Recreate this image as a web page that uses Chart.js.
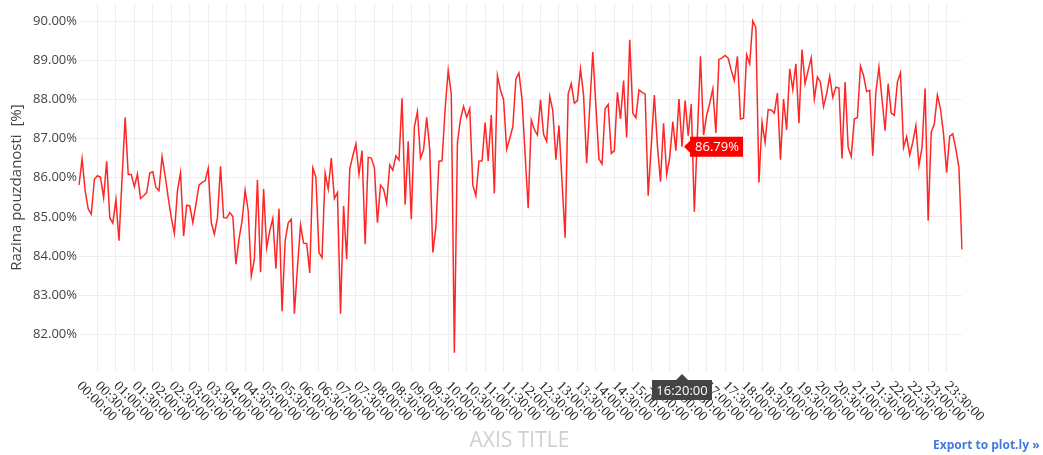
<!DOCTYPE html>
<html>
<head>
<meta charset="utf-8">
<script src="https://cdn.jsdelivr.net/npm/chart.js@4.4.1/dist/chart.umd.min.js"></script>
<style>
  body { margin: 0; background: #fff; }
  #wrap { position: relative; width: 1043px; height: 455px; }
  #export {
    position: absolute; left: 933px; top: 436px;
    font: bold 12px "Open Sans", Arial, sans-serif; color: #447adb;
    white-space: nowrap;
  }
</style>
</head>
<body>
<div id="wrap">
  <canvas id="chart" width="1043" height="455"></canvas>
  <div id="export">Export to plot.ly »</div>
</div>
<script>
// 5-minute samples, one row per hour (00:00 .. 23:55)
const confidence = [
  85.81, 86.48, 85.67, 85.20, 85.07, 85.96, 86.05, 86.01, 85.49, 86.42, 84.98, 84.84,
  85.44, 84.39, 86.00, 87.54, 86.08, 86.08, 85.77, 86.09, 85.47, 85.54, 85.62, 86.12,
  86.15, 85.75, 85.67, 86.54, 86.05, 85.49, 84.98, 84.58, 85.67, 86.13, 84.51, 85.30,
  85.28, 84.85, 85.32, 85.81, 85.88, 85.92, 86.24, 84.85, 84.56, 84.98, 86.29, 84.98,
  84.97, 85.11, 85.01, 83.79, 84.43, 84.90, 85.68, 85.15, 83.49, 83.92, 85.95, 83.59,
  85.71, 84.21, 84.64, 84.96, 83.68, 85.21, 82.59, 84.39, 84.85, 84.94, 82.53, 83.70,
  84.79, 84.33, 84.32, 83.57, 86.25, 86.01, 84.09, 83.96, 86.12, 85.71, 86.50, 85.47,
  85.62, 82.53, 85.28, 83.92, 86.22, 86.56, 86.86, 86.09, 86.69, 84.30, 86.52, 86.50,
  86.26, 84.85, 85.81, 85.71, 85.35, 86.33, 86.19, 86.56, 86.45, 88.03, 85.31, 86.93,
  84.94, 87.29, 87.69, 86.50, 86.71, 87.54, 86.73, 84.09, 84.73, 86.42, 86.43, 87.76,
  88.74, 88.14, 81.53, 86.90, 87.50, 87.82, 87.54, 87.76, 85.81, 85.54, 86.42, 86.43,
  87.41, 86.43, 87.60, 85.60, 88.61, 88.23, 87.99, 86.73, 87.00, 87.30, 88.52, 88.67,
  88.00, 86.60, 85.22, 87.47, 87.23, 87.09, 87.99, 87.11, 86.93, 88.08, 87.71, 86.46,
  87.33, 85.90, 84.47, 88.14, 88.40, 87.90, 87.97, 88.78, 88.11, 86.37, 87.80, 89.21,
  87.84, 86.48, 86.35, 87.76, 87.87, 86.62, 86.69, 88.18, 87.50, 88.48, 87.03, 89.52,
  87.65, 87.53, 88.24, 88.18, 88.14, 85.54, 86.82, 88.11, 86.82, 85.90, 87.39, 86.09,
  86.52, 87.43, 86.69, 88.01, 86.79, 87.97, 87.07, 87.88, 85.13, 87.10, 89.10, 87.09,
  87.59, 87.90, 88.27, 87.14, 89.02, 89.06, 89.12, 89.05, 88.74, 88.48, 89.10, 87.50,
  87.52, 89.14, 88.91, 90.00, 89.83, 85.88, 87.41, 86.90, 87.74, 87.73, 87.65, 88.16,
  86.46, 88.01, 87.22, 88.78, 88.25, 88.91, 87.39, 89.27, 88.40, 88.74, 89.06, 88.01,
  88.57, 88.44, 87.82, 88.14, 88.59, 88.05, 88.31, 88.29, 86.49, 88.44, 86.77, 86.54,
  87.50, 87.53, 88.85, 88.61, 88.20, 88.23, 86.56, 88.18, 88.82, 88.01, 87.20, 88.40,
  87.65, 87.59, 88.44, 88.68, 86.77, 87.05, 86.58, 86.90, 87.33, 86.32, 86.77, 88.28,
  84.90, 87.16, 87.37, 88.11, 87.76, 87.12, 86.13, 87.06, 87.12, 86.73, 86.26, 84.17
];

// categories: HH:MM:00 every 5 minutes
const times = [];
for (let m = 0; m < 24 * 60; m += 5) {
  const hh = String(Math.floor(m / 60)).padStart(2, '0');
  const mm = String(m % 60).padStart(2, '0');
  times.push(hh + ':' + mm + ':00');
}

const yTicks = [82, 83, 84, 85, 86, 87, 88, 89, 90];
const yRange = [81.04, 90.46];
const hoverIndex = 196;   // 16:20:00

const overlay = {
  id: 'overlay',
  afterDraw(chart) {
    const { ctx, chartArea, scales: { x, y } } = chart;
    ctx.save();

    // rotated time labels every 30 minutes
    ctx.font = '14px "Liberation Serif", serif';
    ctx.fillStyle = '#222';
    ctx.textAlign = 'left';
    ctx.textBaseline = 'middle';
    times.forEach((lab, i) => {
      if (i % 6) return;
      ctx.save();
      ctx.translate(x.getPixelForValue(i), chartArea.bottom + 12);
      ctx.rotate(Math.PI / 4);
      ctx.fillText(lab, 0, 0);
      ctx.restore();
    });

    // x axis title
    ctx.font = '21px "Open Sans", sans-serif';
    ctx.fillStyle = '#d0d0d0';
    ctx.textAlign = 'center';
    ctx.fillText('AXIS TITLE', (chartArea.left + chartArea.right) / 2 - 1, 441);

    // hover labels
    const px = x.getPixelForValue(hoverIndex);
    const py = y.getPixelForValue(confidence[hoverIndex]);

    ctx.fillStyle = '#ff0000';
    ctx.beginPath();
    ctx.moveTo(px + 2, py);
    ctx.lineTo(px + 8, py - 6);
    ctx.lineTo(px + 8, py - 10);
    ctx.lineTo(px + 61, py - 10);
    ctx.lineTo(px + 61, py + 10);
    ctx.lineTo(px + 8, py + 10);
    ctx.lineTo(px + 8, py + 6);
    ctx.closePath();
    ctx.fill();
    ctx.font = '13px "Open Sans", sans-serif';
    ctx.fillStyle = '#fff';
    ctx.textAlign = 'center';
    ctx.fillText(confidence[hoverIndex].toFixed(2) + '%', px + 35, py + 1);

    const ty = chartArea.bottom + 2;
    ctx.fillStyle = '#444';
    ctx.beginPath();
    ctx.moveTo(px, ty);
    ctx.lineTo(px + 6, ty + 6);
    ctx.lineTo(px + 30, ty + 6);
    ctx.lineTo(px + 30, ty + 26);
    ctx.lineTo(px - 30, ty + 26);
    ctx.lineTo(px - 30, ty + 6);
    ctx.lineTo(px - 6, ty + 6);
    ctx.closePath();
    ctx.fill();
    ctx.fillStyle = '#fff';
    ctx.fillText(times[hoverIndex], px, ty + 17);

    ctx.restore();
  }
};

new Chart(document.getElementById('chart'), {
  type: 'line',
  data: {
    labels: times,
    datasets: [{
      data: confidence,
      borderColor: 'rgba(255, 0, 0, 0.85)',
      borderWidth: 1.5,
      pointRadius: 0,
      tension: 0,
      fill: false
    }]
  },
  options: {
    responsive: false,
    animation: false,
    devicePixelRatio: 1,
    layout: { padding: { top: 3, right: 81, left: 0, bottom: 0 } },
    plugins: {
      legend: { display: false },
      tooltip: { enabled: false }
    },
    scales: {
      x: {
        type: 'category',
        offset: false,
        border: { display: false },
        grid: {
          drawTicks: false,
          offset: false,
          color: c => (c.index % 6 === 0 && c.index > 0) ? '#eeeeee' : 'rgba(0,0,0,0)'
        },
        ticks: { display: false, autoSkip: false },
        afterFit(scale) { scale.height = 83; }
      },
      y: {
        min: yRange[0],
        max: yRange[1],
        border: { display: false },
        grid: { drawTicks: false, color: '#eeeeee' },
        afterBuildTicks(scale) { scale.ticks = yTicks.map(v => ({ value: v })); },
        ticks: {
          padding: 2,
          color: '#444',
          font: { family: '"Open Sans", sans-serif', size: 13 },
          callback: v => v.toFixed(2) + '%'
        },
        title: {
          display: true,
          text: 'Razina pouzdanosti  [%]',
          color: '#444',
          font: { family: '"Open Sans", sans-serif', size: 15 },
          padding: { top: 8, bottom: 0 }
        },
        afterFit(scale) {
          scale.width = 79;
          // let the plot run up to the layout padding
          scale.paddingTop = 0;
          scale.paddingBottom = 0;
        }
      }
    }
  },
  plugins: [overlay]
});
</script>
</body>
</html>
